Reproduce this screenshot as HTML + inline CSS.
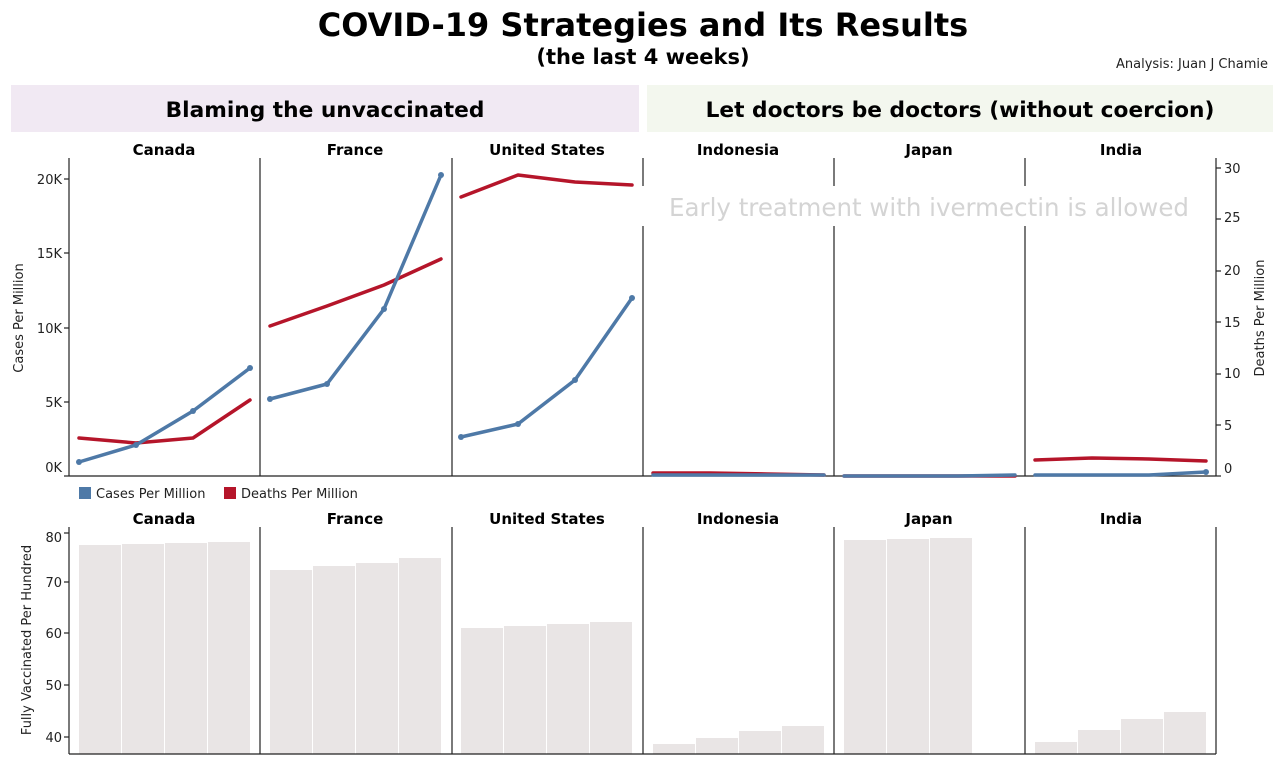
<!DOCTYPE html>
<html><head><meta charset="utf-8"><style>
body{margin:0;background:#fff;}
svg{display:block;font-family:"Liberation Sans","DejaVu Sans",sans-serif;}
</style></head><body>
<svg width="1280" height="763" viewBox="0 0 1280 763">
<text x="643" y="36" text-anchor="middle" font-family="DejaVu Sans" font-weight="bold" font-size="32" fill="#000">COVID-19 Strategies and Its Results</text>
<text x="643" y="64" text-anchor="middle" font-family="DejaVu Sans" font-weight="bold" font-size="21" fill="#000">(the last 4 weeks)</text>
<text x="1268" y="68" text-anchor="end" font-family="DejaVu Sans" font-size="13" fill="#222">Analysis: Juan J Chamie</text>
<rect x="11" y="85" width="628" height="47" fill="#f1e9f3"/>
<rect x="647" y="85" width="626" height="47" fill="#f3f7ee"/>
<text x="325" y="117" text-anchor="middle" font-family="DejaVu Sans" font-weight="bold" font-size="21.7">Blaming the unvaccinated</text>
<text x="960" y="117" text-anchor="middle" font-family="DejaVu Sans" font-weight="bold" font-size="21.7">Let doctors be doctors (without coercion)</text>

<g font-family="DejaVu Sans" font-weight="bold" font-size="15" text-anchor="middle">
<text x="164" y="155">Canada</text><text x="355" y="155">France</text><text x="547" y="155">United States</text>
<text x="738" y="155">Indonesia</text><text x="929" y="155">Japan</text><text x="1121" y="155">India</text>
<text x="164" y="524">Canada</text><text x="355" y="524">France</text><text x="547" y="524">United States</text>
<text x="738" y="524">Indonesia</text><text x="929" y="524">Japan</text><text x="1121" y="524">India</text>
</g>

<g stroke="#222" stroke-width="1.2" fill="none">
<line x1="69" y1="158" x2="69" y2="476"/>
<line x1="69" y1="476" x2="1216" y2="476"/>
<line x1="1216" y1="158" x2="1216" y2="476"/>
<line x1="260" y1="158" x2="260" y2="476"/>
<line x1="452" y1="158" x2="452" y2="476"/>
<line x1="643" y1="158" x2="643" y2="186"/><line x1="643" y1="226" x2="643" y2="476"/>
<line x1="834" y1="158" x2="834" y2="186"/><line x1="834" y1="226" x2="834" y2="476"/>
<line x1="1025" y1="158" x2="1025" y2="186"/><line x1="1025" y1="226" x2="1025" y2="476"/>
<line x1="64" y1="179" x2="69" y2="179"/><line x1="64" y1="253" x2="69" y2="253"/><line x1="64" y1="328" x2="69" y2="328"/><line x1="64" y1="402" x2="69" y2="402"/><line x1="64" y1="476" x2="69" y2="476"/>
<line x1="1216" y1="168" x2="1221" y2="168"/><line x1="1216" y1="219" x2="1221" y2="219"/><line x1="1216" y1="271" x2="1221" y2="271"/><line x1="1216" y1="322" x2="1221" y2="322"/><line x1="1216" y1="374" x2="1221" y2="374"/><line x1="1216" y1="425" x2="1221" y2="425"/><line x1="1216" y1="476" x2="1221" y2="476"/>
</g>
<g font-family="DejaVu Sans" font-size="13" fill="#222" text-anchor="end">
<text x="62" y="184">20K</text><text x="62" y="258">15K</text><text x="62" y="333">10K</text><text x="62" y="407">5K</text><text x="62" y="472">0K</text>
</g>
<g font-family="DejaVu Sans" font-size="13" fill="#222">
<text x="1224" y="173">30</text><text x="1224" y="222">25</text><text x="1224" y="275">20</text><text x="1224" y="327">15</text><text x="1224" y="378">10</text><text x="1224" y="430">5</text><text x="1224" y="473">0</text>
</g>
<text transform="translate(23,318) rotate(-90)" text-anchor="middle" font-family="DejaVu Sans" font-size="13" fill="#222">Cases Per Million</text>
<text transform="translate(1264,318) rotate(-90)" text-anchor="middle" font-family="DejaVu Sans" font-size="13" fill="#222">Deaths Per Million</text>
<text x="929" y="216" text-anchor="middle" font-family="DejaVu Sans" font-size="24.5" fill="#d4d4d4">Early treatment with ivermectin is allowed</text>

<g fill="none" stroke-width="3.5" stroke-linejoin="round" stroke-linecap="round">
<polyline stroke="#b5152a" points="79,438 136,443 193,438 250,400"/>
<polyline stroke="#b5152a" points="270,326 327,306 384,285 441,259"/>
<polyline stroke="#b5152a" points="461,197 518,175 575,182 632,185"/>
<polyline stroke="#b5152a" points="653,473 710,473 767,474 824,475"/>
<polyline stroke="#b5152a" points="844,476 901,476 958,476 1015,476"/>
<polyline stroke="#b5152a" points="1035,460 1092,458 1149,459 1206,461"/>
<polyline stroke="#4e79a7" points="79,462 136,445 193,411 250,368"/>
<polyline stroke="#4e79a7" points="270,399 327,384 384,309 441,175"/>
<polyline stroke="#4e79a7" points="461,437 518,424 575,380 632,298"/>
<polyline stroke="#4e79a7" points="653,475 710,475 767,475 824,475"/>
<polyline stroke="#4e79a7" points="844,476 901,476 958,476 1015,475"/>
<polyline stroke="#4e79a7" points="1035,475 1092,475 1149,475 1206,472"/>
</g>
<g fill="#4e79a7">
<circle cx="79" cy="462" r="3"/><circle cx="136" cy="445" r="3"/><circle cx="193" cy="411" r="3"/><circle cx="250" cy="368" r="3"/>
<circle cx="270" cy="399" r="3"/><circle cx="327" cy="384" r="3"/><circle cx="384" cy="309" r="3"/><circle cx="441" cy="175" r="3"/>
<circle cx="461" cy="437" r="3"/><circle cx="518" cy="424" r="3"/><circle cx="575" cy="380" r="3"/><circle cx="632" cy="298" r="3"/>
<circle cx="1206" cy="472" r="3"/>
</g>

<rect x="79" y="487" width="12" height="12" fill="#4e79a7"/>
<text x="96" y="498" font-family="DejaVu Sans" font-size="13" fill="#222">Cases Per Million</text>
<rect x="224" y="487" width="12" height="12" fill="#b5152a"/>
<text x="241" y="498" font-family="DejaVu Sans" font-size="13" fill="#222">Deaths Per Million</text>

<g fill="#e9e5e5">
<rect x="79" y="545" width="42" height="209"/><rect x="122" y="544" width="42" height="210"/><rect x="165" y="543" width="42" height="211"/><rect x="208" y="542" width="42" height="212"/>
<rect x="270" y="570" width="42" height="184"/><rect x="313" y="566" width="42" height="188"/><rect x="356" y="563" width="42" height="191"/><rect x="399" y="558" width="42" height="196"/>
<rect x="461" y="628" width="42" height="126"/><rect x="504" y="626" width="42" height="128"/><rect x="547" y="624" width="42" height="130"/><rect x="590" y="622" width="42" height="132"/>
<rect x="653" y="744" width="42" height="10"/><rect x="696" y="738" width="42" height="16"/><rect x="739" y="731" width="42" height="23"/><rect x="782" y="726" width="42" height="28"/>
<rect x="844" y="540" width="42" height="214"/><rect x="887" y="539" width="42" height="215"/><rect x="930" y="538" width="42" height="216"/>
<rect x="1035" y="742" width="42" height="12"/><rect x="1078" y="730" width="42" height="24"/><rect x="1121" y="719" width="42" height="35"/><rect x="1164" y="712" width="42" height="42"/>
</g>
<g stroke="#222" stroke-width="1.2">
<line x1="69" y1="527" x2="69" y2="754"/>
<line x1="69" y1="754" x2="1216" y2="754"/>
<line x1="1216" y1="527" x2="1216" y2="754"/>
<line x1="260" y1="527" x2="260" y2="754"/><line x1="452" y1="527" x2="452" y2="754"/><line x1="643" y1="527" x2="643" y2="754"/><line x1="834" y1="527" x2="834" y2="754"/><line x1="1025" y1="527" x2="1025" y2="754"/>
<line x1="64" y1="533" x2="69" y2="533"/><line x1="64" y1="582" x2="69" y2="582"/><line x1="64" y1="633" x2="69" y2="633"/><line x1="64" y1="685" x2="69" y2="685"/><line x1="64" y1="737" x2="69" y2="737"/>
</g>
<g font-family="DejaVu Sans" font-size="13" fill="#222" text-anchor="end">
<text x="62" y="542">80</text><text x="62" y="587">70</text><text x="62" y="638">60</text><text x="62" y="690">50</text><text x="62" y="742">40</text>
</g>
<text transform="translate(31,640) rotate(-90)" text-anchor="middle" font-family="DejaVu Sans" font-size="13" fill="#222">Fully Vaccinated Per Hundred</text>
</svg>
</body></html>
